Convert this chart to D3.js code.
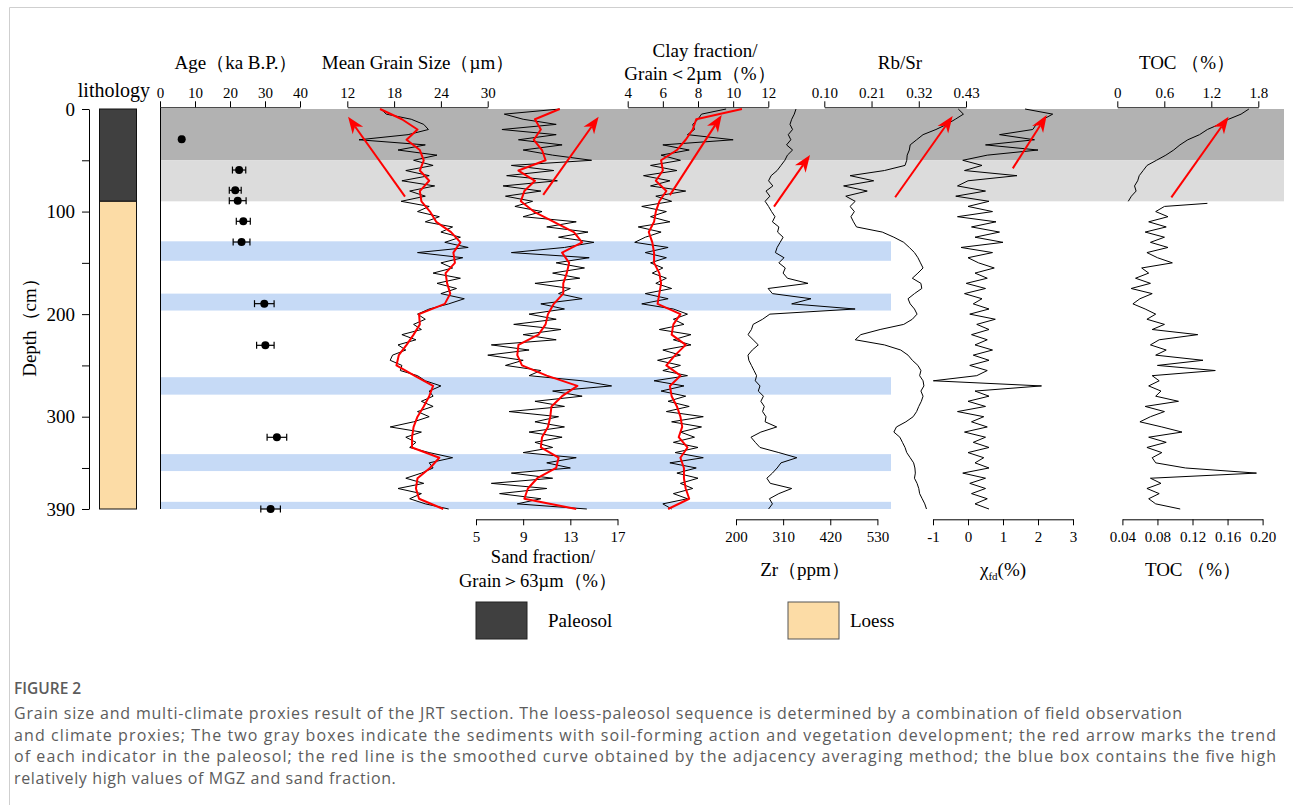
<!DOCTYPE html>
<html>
<head>
<meta charset="utf-8">
<script src="https://cdn.jsdelivr.net/npm/d3@7"></script>
<style>
  body { margin: 0; background: #fff; }
  svg text { font-family: "Liberation Serif", "Times New Roman", serif; fill: #000; }
  svg text.cap { font-family: "Open Sans", sans-serif; fill: #5c5c5c; }
</style>
</head>
<body>
<svg id="chart" width="1293" height="805"></svg>
<script>
// ---- data (depth in cm) ----
const depth = [0,5,10,15,20,25,30,35,40,45,50,55,60,65,70,75,80,85,90,95,100,105,110,115,120,125,130,135,140,145,150,155,160,165,170,175,180,185,190,195,200,205,210,215,220,225,230,235,240,245,250,255,260,265,270,275,280,285,290,295,300,305,310,315,320,325,330,335,340,345,350,355,360,365,370,375,380,385,390];
const depth10 = [0,10,20,30,40,50,60,70,80,90,100,110,120,130,140,150,160,170,180,190,200,210,220,230,240,250,260,270,280,290,300,310,320,330,340,350,360,370,380,390];

const mgs = [16.3,17.0,20.2,21.8,22.4,19.8,13.5,22.0,18.5,23.5,20.5,23.0,19.5,22.5,19.0,23.2,20.0,22.0,18.9,22.5,21.0,23.8,22.0,25.5,24.0,26.5,24.5,27.5,21.0,26.8,24.0,25.5,23.0,26.5,23.5,26.0,24.0,27.0,25.0,22.5,21.0,22.0,20.5,21.5,19.0,20.8,18.5,19.5,17.8,17.5,19.0,18.8,21.0,22.0,24.0,22.5,23.0,21.5,23.0,21.0,22.5,20.5,17.5,21.5,19.5,20.8,20.0,22.5,25.5,22.5,23.0,21.5,19.5,21.8,18.5,21.5,20.0,22.0,25.0];
const mgsSmooth = [16.2,19.0,21.0,19.6,21.3,21.8,21.3,22.5,21.3,21.5,22.6,23.4,25.3,26.5,25.6,25.8,24.6,24.8,25.2,24.5,21.2,21.3,20.5,19.6,18.6,18.3,20.6,23.0,22.5,21.8,21.0,20.5,20.3,20.3,23.8,22.6,21.0,20.8,21.2,24.3];

const sand = [12.1,7.4,9.0,11.8,7.2,11.8,8.6,12.3,9.0,11.5,14.8,8.0,11.6,7.6,11.9,7.3,10.5,7.5,9.8,8.3,10.6,9.0,13.5,11.0,14.5,12.0,15.0,12.5,8.0,14.6,11.8,14.2,11.5,13.8,10.0,13.0,12.0,14.0,10.5,12.5,9.5,11.8,8.2,12.2,9.0,11.8,6.3,9.5,6.0,9.0,7.5,10.5,9.5,14.0,16.5,11.5,14.0,10.0,12.5,7.8,12.0,10.0,12.5,9.5,12.3,10.0,11.5,9.0,13.5,11.0,13.0,8.0,11.5,6.3,11.0,7.0,10.5,8.5,14.4];
const sandSmooth = [12.1,10.0,10.5,9.9,10.6,10.9,8.6,10.0,9.1,8.8,9.9,11.6,13.3,14.0,12.3,12.9,12.7,12.4,12.4,11.6,11.1,10.9,10.3,8.6,8.5,8.9,11.0,13.6,12.3,11.4,11.3,11.1,10.6,10.5,12.0,11.8,10.2,9.4,9.1,13.5];

const clay = [9.6,8.2,8.0,7.7,7.8,7.4,10.0,6.0,7.5,5.9,7.0,5.3,6.8,4.9,6.4,5.3,7.3,5.6,6.5,4.8,6.2,5.3,6.4,4.6,5.9,5.0,4.4,6.3,5.0,6.2,5.3,6.0,5.4,6.2,5.6,6.5,5.0,6.3,4.8,6.6,7.4,6.6,7.2,5.8,7.6,6.6,7.6,6.0,7.0,5.7,7.0,6.0,7.4,5.5,7.2,5.9,7.3,6.3,7.5,6.2,8.3,6.5,8.2,7.0,7.8,6.6,8.0,6.7,8.3,6.4,7.9,6.8,8.0,7.0,7.7,6.6,7.4,6.0,6.5];
const claySmooth = [10.5,7.9,7.7,7.3,6.8,5.9,6.0,5.6,6.2,5.8,5.6,5.5,5.2,5.4,5.5,5.5,5.8,5.9,5.8,5.7,7.0,6.6,6.5,7.3,6.7,6.2,7.0,6.4,6.5,6.8,7.0,7.1,6.9,7.4,7.0,7.2,7.2,7.3,7.5,6.3];

const zr = [340,336,330,326,332,322,328,318,332,320,314,305,296,282,276,286,270,279,268,276,283,291,285,300,297,310,303,296,292,312,300,315,310,320,368,275,285,375,330,478,279,262,240,236,228,240,252,238,228,230,236,242,248,245,256,252,264,258,266,262,270,268,295,258,235,245,256,300,342,305,296,285,272,280,330,300,278,285,276];

const rbsr = [0.412,0.424,0.405,0.385,0.360,0.330,0.315,0.300,0.298,0.293,0.292,0.288,0.240,0.160,0.215,0.145,0.200,0.150,0.172,0.160,0.170,0.162,0.168,0.175,0.235,0.262,0.285,0.298,0.310,0.318,0.324,0.330,0.318,0.305,0.325,0.327,0.310,0.295,0.300,0.310,0.316,0.305,0.285,0.230,0.185,0.172,0.240,0.278,0.295,0.305,0.318,0.325,0.322,0.330,0.332,0.325,0.330,0.326,0.320,0.315,0.307,0.290,0.268,0.262,0.276,0.282,0.288,0.292,0.300,0.308,0.311,0.312,0.310,0.316,0.320,0.322,0.328,0.334,0.338];

const chi = [1.63,2.42,2.15,1.95,1.85,0.9,1.9,0.5,2.0,0.55,-0.15,0.4,-0.1,1.4,0.0,-0.3,0.5,-0.35,0.6,0.0,0.7,-0.3,0.8,0.1,0.9,0.2,1.0,-0.2,0.7,0.0,0.3,0.75,0.2,0.55,-0.05,0.5,-0.1,0.4,0.15,0.6,0.05,0.78,0.25,0.6,0.1,0.55,0.2,0.7,0.15,0.6,0.05,0.55,0.25,-0.99,2.1,0.2,0.6,0.0,0.5,-0.3,0.45,0.1,0.55,-0.1,0.5,0.15,0.6,0.0,0.45,0.2,0.6,-0.15,0.5,0.05,0.5,0.1,0.55,0.2,0.6];

const tocTopDepth = [0,5,10,15,20,25,30,35,40,45,50,55,60,65,70,75,80,85,90];
const tocTop = [1.68,1.58,1.42,1.30,1.15,1.05,0.90,0.80,0.72,0.62,0.50,0.38,0.33,0.28,0.26,0.22,0.24,0.18,0.14];
const tocBotDepth = [92,95,100,105,110,115,120,125,130,135,140,145,150,155,160,165,170,175,180,185,190,195,200,205,210,215,220,225,230,235,240,245,250,255,260,265,270,275,280,285,290,295,300,305,310,315,320,325,330,335,340,345,350,355,360,365,370,375,380,385,390];
const tocBot = [0.137,0.088,0.078,0.092,0.070,0.090,0.066,0.088,0.072,0.092,0.068,0.080,0.097,0.062,0.070,0.055,0.072,0.050,0.074,0.060,0.052,0.066,0.078,0.068,0.088,0.074,0.126,0.082,0.072,0.090,0.078,0.132,0.080,0.146,0.074,0.082,0.070,0.084,0.078,0.104,0.066,0.088,0.072,0.060,0.085,0.108,0.070,0.090,0.068,0.085,0.074,0.078,0.112,0.193,0.072,0.084,0.068,0.082,0.070,0.078,0.106];

const ageDepth = [29.6,59.5,79.3,89.4,109.5,129.7,189.8,230.4,320.1,390];
const ageVal = [6.2,22.6,21.5,22.2,23.8,23.3,29.8,30.1,33.4,31.6];
const ageErr = [0.4,1.9,1.7,2.4,2.0,2.4,2.8,2.5,2.8,2.8];

const lithoTop = [0,90];
const lithoBottom = [90,390];
const lithoType = ["Paleosol","Loess"];

const soilTop = [0,50];
const soilBottom = [50,90];
const blueTop = [129,180,261.5,336.5,383];
const blueBottom = [148,196.5,278.5,353,390];

const arrowScale = ["mgs","sand","clay","zr","rbsr","chi","tocTop"];
const arrowFrom = [[85.5,19.4],[83.8,10.7],[84,6.4],[95.2,288.7],[86,0.265],[57.9,1.28],[86.1,0.69]];
const arrowTo = [[7.5,12.1],[7.5,15.4],[5.9,9.35],[44.9,372.7],[6.8,0.399],[5.9,2.25],[7.5,1.42]];

// ---- scales ----
const svg = d3.select("#chart");
const y = d3.scaleLinear().domain([0,390]).range([109,509]);
const x = {
  age: d3.scaleLinear().domain([0,40]).range([160,300]),
  mgs: d3.scaleLinear().domain([12,30]).range([347.3,487.7]),
  sand: d3.scaleLinear().domain([5,17]).range([476,617.5]),
  clay: d3.scaleLinear().domain([4,12]).range([627.7,768.3]),
  zr: d3.scaleLinear().domain([200,530]).range([736,877.4]),
  rbsr: d3.scaleLinear().domain([0.10,0.43]).range([824.3,966]),
  chi: d3.scaleLinear().domain([-1,3]).range([933,1073]),
  tocTop: d3.scaleLinear().domain([0,1.8]).range([1117.3,1258.3]),
  tocBot: d3.scaleLinear().domain([0.04,0.20]).range([1122.4,1262.6])
};

// page frame
svg.append("path").attr("d","M9.5,805V7.5H1293").attr("fill","none").attr("stroke","#cfcfcf");

// background bands
const soilColor = ["#b2b2b2","#dcdcdc"];
soilTop.forEach((t,i) => {
  svg.append("rect").attr("x",160).attr("width",1124)
    .attr("y",y(t)).attr("height",y(soilBottom[i]) - y(t))
    .attr("fill",soilColor[i]);
});
blueTop.forEach((t,i) => {
  svg.append("rect").attr("x",160).attr("width",731)
    .attr("y",y(t)).attr("height",y(blueBottom[i]) - y(t))
    .attr("fill","#c6daf6");
});

// lithology column
const lithoColor = {Paleosol:"#404040", Loess:"#fcdca6"};
lithoTop.forEach((t,i) => {
  svg.append("rect").attr("x",99.5).attr("width",37)
    .attr("y",y(t)).attr("height",y(lithoBottom[i]) - y(t))
    .attr("fill",lithoColor[lithoType[i]]).attr("stroke","#111").attr("stroke-width",1);
});

// depth axis
const depthAxis = d3.axisLeft(y)
  .tickValues([0,50,100,150,200,250,300,350,390])
  .tickSize(7).tickPadding(7).tickSizeOuter(0)
  .tickFormat(d => (d % 100 === 0 || d === 390) ? d : "");
svg.append("g").attr("transform","translate(89,0)").call(depthAxis)
  .attr("font-size",19).attr("font-family",null);

svg.append("text").attr("transform","translate(36,323) rotate(-90)")
  .attr("text-anchor","middle").attr("font-size",19).text("Depth（cm）");
svg.append("text").attr("x",150).attr("y",97).attr("text-anchor","end")
  .attr("font-size",20).text("lithology");

// age panel left line
svg.append("line").attr("x1",160.5).attr("x2",160.5).attr("y1",107.3).attr("y2",509).attr("stroke","#000");

// axes
function topAxis(sc, ticks, fmt) {
  svg.append("g").attr("transform","translate(0,107.3)")
    .call(d3.axisTop(sc).tickValues(ticks).tickSize(6).tickPadding(3).tickSizeOuter(0).tickFormat(fmt))
    .attr("font-size",15).attr("font-family",null);
}
function bottomAxis(sc, ticks, fmt) {
  svg.append("g").attr("transform","translate(0,519.3)")
    .call(d3.axisBottom(sc).tickValues(ticks).tickSize(6).tickPadding(6).tickSizeOuter(0).tickFormat(fmt))
    .attr("font-size",15).attr("font-family",null);
}
const plain = d => String(d);
topAxis(x.age, [0,10,20,30,40], plain);
topAxis(x.mgs, [12,18,24,30], plain);
topAxis(x.clay, [4,6,8,10,12], plain);
topAxis(x.rbsr, [0.10,0.21,0.32,0.43], d3.format(".2f"));
topAxis(x.tocTop, [0,0.6,1.2,1.8], plain);
bottomAxis(x.sand, [5,9,13,17], plain);
bottomAxis(x.zr, [200,310,420,530], plain);
bottomAxis(x.chi, [-1,0,1,2,3], plain);
bottomAxis(x.tocBot, [0.04,0.08,0.12,0.16,0.20], d3.format(".2f"));

// titles
const title = (tx, ty, s, fs) => svg.append("text").attr("x",tx).attr("y",ty)
  .attr("text-anchor","middle").attr("font-size",fs || 19).text(s);
title(236, 69, "Age（ka B.P.）");
title(418, 69, "Mean Grain Size（µm）");
title(705, 57, "Clay fraction/");
title(700, 80, "Grain＜2µm（%）");
title(900, 69, "Rb/Sr");
title(1187, 69, "TOC （%）");
title(543, 563, "Sand fraction/", 18.5);
title(538, 587, "Grain＞63µm（%）", 18.5);
title(805, 576, "Zr（ppm）");
title(1193, 576, "TOC （%）");
const chiLab = svg.append("text").attr("x",1003).attr("y",576)
  .attr("text-anchor","middle").attr("font-size",19);
chiLab.append("tspan").text("χ");
chiLab.append("tspan").attr("dy",4).attr("font-size",11).text("fd");
chiLab.append("tspan").attr("dy",-4).text("(%)");

// curves
function curve(dep, vals, sc, color, width) {
  const line = d3.line().x(d => sc(d[1])).y(d => y(d[0]));
  svg.append("path").datum(d3.zip(dep, vals)).attr("d", line)
    .attr("fill","none").attr("stroke",color).attr("stroke-width",width)
    .attr("stroke-linejoin","round");
}
curve(depth, mgs, x.mgs, "#000", 1);
curve(depth, sand, x.sand, "#000", 1);
curve(depth, clay, x.clay, "#000", 1);
curve(depth10, mgsSmooth, x.mgs, "#ff0000", 2);
curve(depth10, sandSmooth, x.sand, "#ff0000", 2);
curve(depth10, claySmooth, x.clay, "#ff0000", 2);
curve(depth, zr, x.zr, "#000", 1);
curve(depth, rbsr, x.rbsr, "#000", 1);
curve(depth, chi, x.chi, "#000", 1);
curve(tocTopDepth, tocTop, x.tocTop, "#000", 1);
curve(tocBotDepth, tocBot, x.tocBot, "#000", 1);

// ages with error bars
ageDepth.forEach((d,i) => {
  const cy = y(d), x0 = x.age(ageVal[i] - ageErr[i]), x1 = x.age(ageVal[i] + ageErr[i]);
  const g = svg.append("g").attr("stroke","#000").attr("stroke-width",1.2);
  g.append("line").attr("x1",x0).attr("x2",x1).attr("y1",cy).attr("y2",cy);
  g.append("line").attr("x1",x0).attr("x2",x0).attr("y1",cy-3.5).attr("y2",cy+3.5);
  g.append("line").attr("x1",x1).attr("x2",x1).attr("y1",cy-3.5).attr("y2",cy+3.5);
  svg.append("circle").attr("cx",x.age(ageVal[i])).attr("cy",cy).attr("r",4).attr("fill","#000");
});

// red trend arrows
arrowScale.forEach((k,i) => {
  const sc = x[k];
  const x1 = sc(arrowFrom[i][1]), y1 = y(arrowFrom[i][0]);
  const x2 = sc(arrowTo[i][1]), y2 = y(arrowTo[i][0]);
  const a = Math.atan2(y2 - y1, x2 - x1), ux = Math.cos(a), uy = Math.sin(a);
  const L = 17, W = 6.5, N = 12;
  svg.append("line").attr("x1",x1).attr("y1",y1)
    .attr("x2",x2 - N*ux).attr("y2",y2 - N*uy)
    .attr("stroke","#ff0000").attr("stroke-width",2);
  const pts = [
    [x2, y2],
    [x2 - L*ux - W*uy, y2 - L*uy + W*ux],
    [x2 - N*ux, y2 - N*uy],
    [x2 - L*ux + W*uy, y2 - L*uy - W*ux]
  ];
  svg.append("polygon").attr("points", pts.map(p => p.join(",")).join(" ")).attr("fill","#ff0000");
});

// legend
svg.append("rect").attr("x",476).attr("y",602).attr("width",51).attr("height",37)
  .attr("fill","#404040").attr("stroke","#222");
svg.append("text").attr("x",548).attr("y",627).attr("font-size",19).text("Paleosol");
svg.append("rect").attr("x",788).attr("y",602).attr("width",51).attr("height",37)
  .attr("fill","#fcdca6").attr("stroke","#555");
svg.append("text").attr("x",850).attr("y",627).attr("font-size",19).text("Loess");

// caption
const capLines = [
  "Grain size and multi-climate proxies result of the JRT section. The loess-paleosol sequence is determined by a combination of field observation",
  "and climate proxies; The two gray boxes indicate the sediments with soil-forming action and vegetation development; the red arrow marks the trend",
  "of each indicator in the paleosol; the red line is the smoothed curve obtained by the adjacency averaging method; the blue box contains the five high",
  "relatively high values of MGZ and sand fraction."
];
const capWidth = [1168, 1262, 1262, null];
svg.append("text").attr("class","cap").attr("x",14).attr("y",694)
  .attr("font-size",15.5).attr("font-weight",600).text("FIGURE 2");
capLines.forEach((s,i) => {
  const t = svg.append("text").attr("class","cap").attr("x",14).attr("y",719 + i*21.5)
    .attr("font-size",16).text(s);
  if (capWidth[i]) t.attr("textLength",capWidth[i]).attr("lengthAdjust","spacing");
  else t.attr("letter-spacing",0.62);
});
</script>
</body>
</html>
